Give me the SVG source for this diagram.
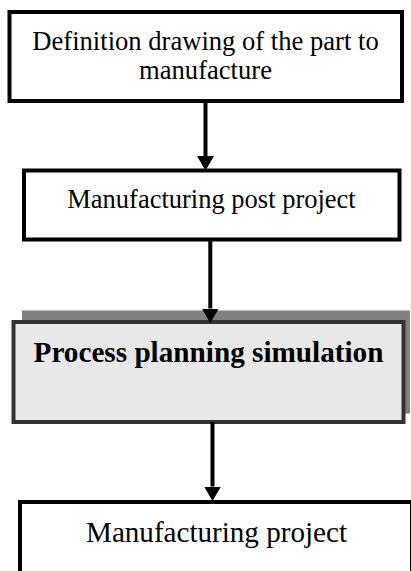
<svg xmlns="http://www.w3.org/2000/svg" width="411" height="571" viewBox="0 0 411 571">
  <style>
    .box { fill: #ffffff; stroke: #000000; stroke-width: 4; }
    .sim { fill: #e8e8e8; stroke: #333333; stroke-width: 4; }
    .shadow { fill: #808080; }
    .label { font-family: "Liberation Serif", "Times New Roman", serif; fill: #000000; text-anchor: middle; }
    .link { stroke: #000000; stroke-width: 4; fill: none; marker-end: url(#head); }
  </style>
  <defs>
    <marker id="head" markerUnits="userSpaceOnUse" markerWidth="15" markerHeight="17" refX="0" refY="8.5" orient="auto">
      <path d="M0,0 L14.5,8.5 L0,17 Z" fill="#000000"/>
    </marker>
  </defs>

  <g id="node-definition-drawing">
    <rect class="box" x="9.5" y="12" width="392.5" height="89"/>
    <text class="label" x="205.5" y="49.5" font-size="26.6">Definition drawing of the part to</text>
    <text class="label" x="205.5" y="79" font-size="26.6">manufacture</text>
  </g>

  <g id="node-post-project">
    <rect class="box" x="24" y="170.5" width="375.5" height="69"/>
    <text class="label" x="211.5" y="208" font-size="26.5">Manufacturing post project</text>
  </g>

  <g id="node-simulation">
    <rect class="shadow" x="22" y="310.5" width="388" height="103"/>
    <rect class="sim" x="13.5" y="322" width="390" height="100"/>
    <text class="label" x="208.5" y="361.5" font-size="29.2" font-weight="bold">Process planning simulation</text>
  </g>

  <g id="node-manufacturing-project">
    <rect class="box" x="20" y="502" width="392" height="90"/>
    <text class="label" x="216.5" y="541.5" font-size="29.1">Manufacturing project</text>
  </g>

  <g id="connectors">
    <line class="link" x1="205.5" y1="101" x2="205.5" y2="156"/>
    <line class="link" x1="210.3" y1="239.5" x2="210.3" y2="308.5"/>
    <line class="link" x1="212.5" y1="422" x2="212.5" y2="486.5"/>
  </g>
</svg>
